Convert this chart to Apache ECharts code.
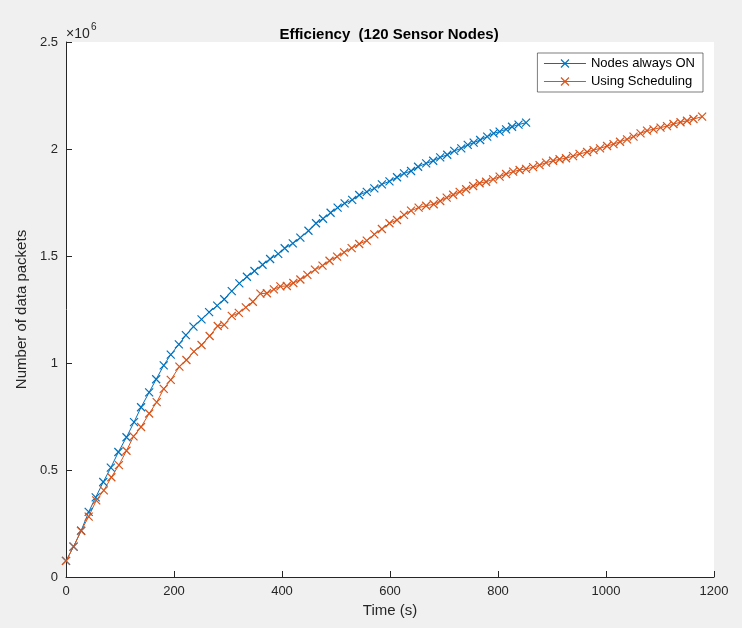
<!DOCTYPE html>
<html>
<head>
<meta charset="utf-8">
<script src="https://cdn.jsdelivr.net/npm/echarts@6/dist/echarts.min.js"></script>
<style>
html,body{margin:0;padding:0;background:#f0f0f0;}
#chart{width:742px;height:628px;}
</style>
</head>
<body>
<div id="chart"></div>
<script>
// Values in units of 10^6 packets
const timeOn = [0,14,28,42,55,69,83,97,112,126,139,154,167,181,194,209,222,236,251,265,280,293,307,321,335,349,364,378,393,405,420,434,449,463,476,490,503,516,530,543,557,571,585,599,613,626,639,652,667,680,693,706,719,732,744,755,767,780,792,803,815,826,838,852];
const pktOn = [0.075,0.142,0.216,0.304,0.372,0.444,0.511,0.584,0.653,0.724,0.793,0.863,0.924,0.989,1.039,1.087,1.130,1.170,1.204,1.238,1.268,1.298,1.336,1.372,1.403,1.430,1.459,1.486,1.510,1.536,1.559,1.586,1.618,1.653,1.674,1.702,1.726,1.746,1.762,1.785,1.800,1.816,1.835,1.849,1.868,1.886,1.897,1.917,1.933,1.945,1.961,1.973,1.991,2.003,2.019,2.030,2.042,2.058,2.073,2.081,2.092,2.104,2.114,2.123];
const timeSched = [0,14,28,42,56,70,84,98,112,125,139,154,168,181,194,210,223,237,251,266,281,293,307,320,333,346,360,372,385,397,409,421,434,447,461,475,488,502,515,529,543,557,571,585,599,613,626,639,653,667,681,693,705,717,729,741,754,766,778,791,803,815,828,840,852,865,877,889,902,914,926,939,951,965,977,989,1002,1014,1026,1039,1051,1064,1076,1088,1101,1113,1125,1138,1150,1162,1178];
const pktSched = [0.075,0.142,0.216,0.282,0.358,0.405,0.466,0.523,0.590,0.657,0.701,0.764,0.817,0.879,0.921,0.983,1.014,1.053,1.084,1.126,1.173,1.178,1.220,1.234,1.260,1.286,1.324,1.326,1.344,1.358,1.360,1.374,1.390,1.412,1.436,1.455,1.478,1.497,1.517,1.537,1.556,1.572,1.601,1.626,1.653,1.668,1.692,1.712,1.726,1.735,1.742,1.757,1.773,1.786,1.800,1.812,1.827,1.840,1.847,1.858,1.871,1.883,1.894,1.902,1.907,1.915,1.925,1.936,1.945,1.952,1.957,1.967,1.977,1.986,1.995,2.003,2.014,2.023,2.034,2.045,2.058,2.073,2.086,2.092,2.100,2.107,2.117,2.125,2.132,2.140,2.151];
const xTicks = [0,200,400,600,800,1000,1200];
const yTicks = [0,0.5,1,1.5,2,2.5];
const seriesNames = ['Nodes always ON','Using Scheduling'];
const titleText = 'Efficiency  (120 Sensor Nodes)';
const xName = 'Time (s)';
const yName = 'Number of data packets';

const blue = '#0072BD', orange = '#D95319', axisCol = '#262626';
const font = 'Liberation Sans, Arial, Helvetica, sans-serif';
const xSym = 'path://M0,0L10,10M10,0L0,10';
const legendIcon = 'path://M0,5L42,5M17,1L25,9M25,1L17,9';

function zip(a,b){return a.map((t,i)=>[t,b[i]]);}

const chart = echarts.init(document.getElementById('chart'));
chart.setOption({
  backgroundColor:'#f0f0f0',
  animation:false,
  color:[blue,orange],
  textStyle:{fontFamily:font},
  title:{text:titleText,left:384,top:22,textAlign:'center',
    textStyle:{fontSize:15,fontWeight:'bold',color:'#000',fontFamily:font}},
  grid:{left:66,right:28,top:42,bottom:51,show:true,backgroundColor:'#fff',borderWidth:0},
  legend:{
    data:seriesNames,icon:legendIcon,
    orient:'vertical',right:39,top:53,
    backgroundColor:'#fff',borderColor:'#262626',borderWidth:0.6,
    padding:[4,8,4,6],itemGap:5,itemWidth:42,itemHeight:10,
    itemStyle:{borderWidth:1.1},
    textStyle:{fontSize:13,color:'#000',fontFamily:font}
  },
  xAxis:{
    type:'value',min:xTicks[0],max:xTicks[xTicks.length-1],interval:200,
    name:xName,nameLocation:'middle',nameGap:25,
    nameTextStyle:{fontSize:15,color:axisCol,fontFamily:font},
    axisLine:{show:true,lineStyle:{color:axisCol,width:1}},
    axisTick:{show:true,inside:true,length:6,lineStyle:{color:axisCol}},
    axisLabel:{fontSize:13,color:axisCol,margin:8,fontFamily:font,formatter:v=>String(v)},
    splitLine:{show:false}
  },
  yAxis:{
    type:'value',min:yTicks[0],max:yTicks[yTicks.length-1],interval:0.5,
    name:yName,nameLocation:'middle',nameGap:28,
    nameTextStyle:{fontSize:15,color:axisCol,fontFamily:font},
    axisLine:{show:true,lineStyle:{color:axisCol,width:1}},
    axisTick:{show:true,inside:true,length:6,lineStyle:{color:axisCol}},
    axisLabel:{fontSize:13,color:axisCol,margin:8,fontFamily:font,formatter:v=>String(v)},
    splitLine:{show:false}
  },
  graphic:[
    {type:'text',left:66,top:27,style:{text:'×10',fontSize:14,fill:axisCol,fontFamily:font}},
    {type:'text',left:91,top:22,style:{text:'6',fontSize:10,fill:axisCol,fontFamily:font}}
  ],
  series:[
    {name:seriesNames[0],type:'line',data:zip(timeOn,pktOn),color:blue,
     symbol:xSym,symbolSize:8,showAllSymbol:true,
     lineStyle:{color:blue,width:1},
     itemStyle:{color:'rgba(0,0,0,0)',borderColor:blue,borderWidth:1.2}},
    {name:seriesNames[1],type:'line',data:zip(timeSched,pktSched),color:orange,
     symbol:xSym,symbolSize:8,showAllSymbol:true,
     lineStyle:{color:orange,width:1},
     itemStyle:{color:'rgba(0,0,0,0)',borderColor:orange,borderWidth:1.2}}
  ]
});
</script>
</body>
</html>
